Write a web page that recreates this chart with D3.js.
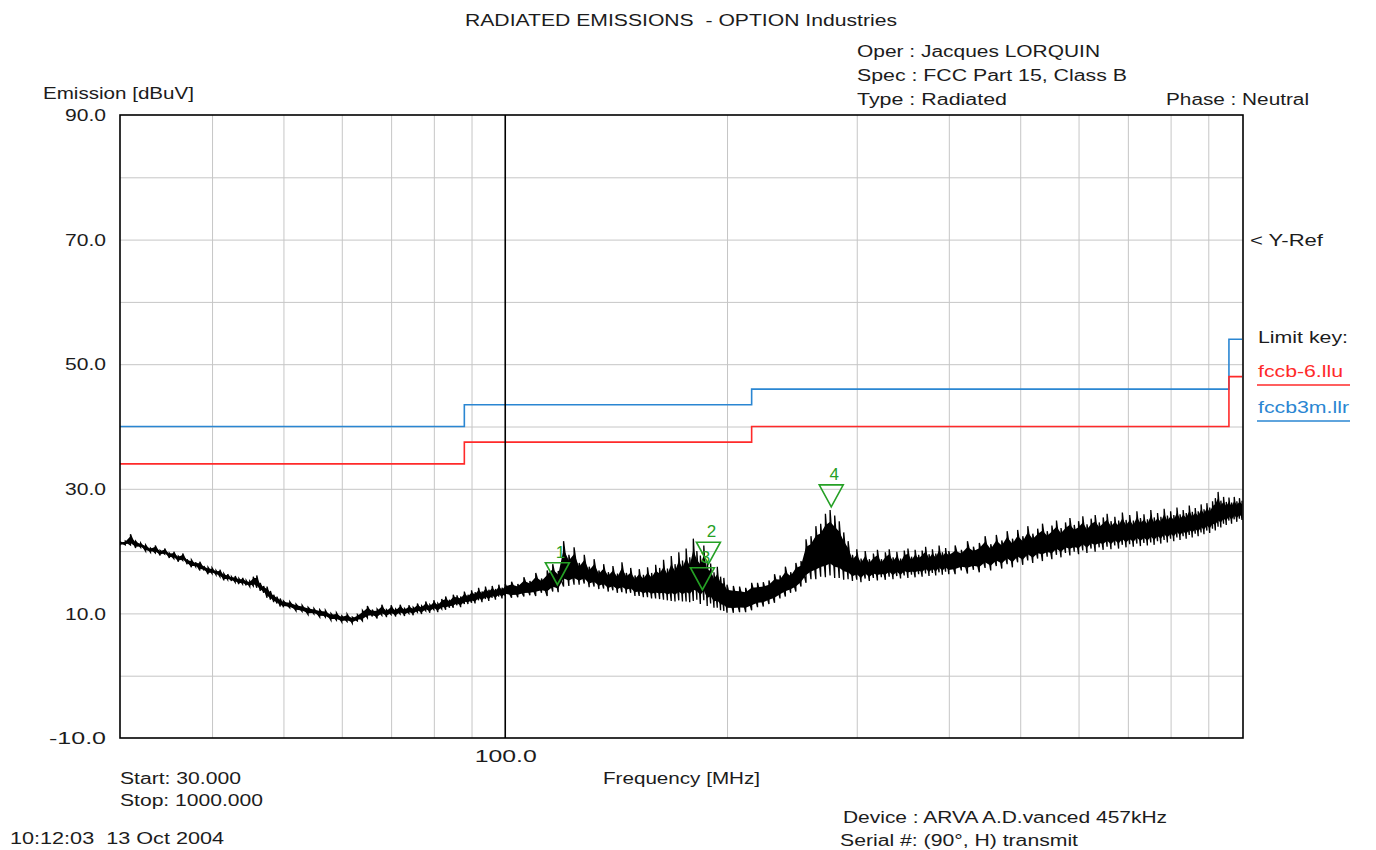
<!DOCTYPE html>
<html><head><meta charset="utf-8">
<script src="https://cdn.jsdelivr.net/npm/d3@7"></script>
<style>html,body{margin:0;padding:0;background:#fff;} svg{display:block;font-family:"Liberation Sans",Arial,sans-serif;} text{white-space:pre;}</style>
</head><body>
<svg id="chart" width="1376" height="850"></svg>
<script>
// ---------- DATA ----------
const xGridFreqs = [40,50,60,70,80,90,200,300,400,500,600,700,800,900];
const yGridLevels = [0,10,20,30,40,50,60,70,80];
const yTickLabels = [90,70,50,30,10,-10];
const xTickLabels = [100];
const refFreq = 100;
const yRefLevel = 70;

const limitEdges = [30, 88, 216, 960, 1000];
const limitBlue = [40, 43.5, 46, 54];   // fccb3m.llr
const limitRed  = [34, 37.5, 40, 48];   // fccb-6.llu

const markerNums   = [1, 2, 3, 4];
const markerFreqs  = [117.7, 188.7, 185.2, 277];
const markerLevels = [14.6, 17.9, 13.8, 27.1];

// trace: [frequency MHz, min level dBuV, max level dBuV]
const traceRows = [
[30,20.9,21.5],[30.5,21.0,21.6],[31,21.0,22.7],[31.5,20.5,21.6],[32,20.6,21.3],[32.5,20.0,21.0],[33,19.8,20.5],[33.5,19.7,20.9],
[34,19.3,20.1],[34.5,19.5,20.4],[35,18.9,19.7],[35.5,18.8,19.9],[36,18.3,19.2],[36.5,18.5,19.6],[37,17.9,18.7],[37.5,17.4,18.6],
[38,17.5,18.2],[38.5,16.9,18.3],[39,16.9,17.6],[39.5,16.3,17.4],[40,16.4,17.3],[40.5,16.2,16.9],[41,15.9,17.0],[41.5,15.3,16.4],
[42,15.4,16.3],[42.5,15.2,15.9],[43,15.0,16.0],[43.5,14.7,15.6],[44,14.7,15.7],[44.5,14.5,15.3],[45,14.3,15.2],[45.5,14.4,15.9],
[46,14.1,16.1],[46.5,13.6,14.9],[47,13.3,14.4],[47.5,12.5,14.3],[48,12.2,13.6],[48.5,11.8,13.0],[49,11.6,12.7],[49.5,11.1,12.4],
[50,11.0,12.0],[51,10.9,11.9],[52,10.4,11.5],[53,10.3,11.3],[54,9.8,11.0],[55,9.9,10.8],[56,9.4,10.6],[57,9.4,10.5],
[58,8.9,10.0],[59,8.9,10.1],[60,8.6,9.6],[61,8.7,9.9],[62,8.4,9.4],[63,8.8,9.8],[64,8.8,10.5],[65,9.3,11.2],
[66,9.5,10.6],[67,9.2,10.7],[68,9.7,11.4],[69,9.4,10.6],[70,9.8,11.3],[71,9.5,10.7],[72,9.9,11.4],[73,9.6,10.8],
[74,10.0,11.3],[75,9.7,11.0],[76,10.2,11.6],[77,9.9,11.2],[78,10.4,11.9],[79,10.1,11.4],[80,10.6,12.1],[81,10.2,11.6],
[82,10.7,12.3],[83,10.6,12.7],[84,10.9,12.2],[85,10.9,13.0],[86,11.3,12.9],[87,11.0,12.7],[88,11.5,13.5],[89,11.5,13.0],
[90,11.7,13.7],[91,11.6,13.4],[92,12.1,14.1],[93,11.8,13.5],[94,12.3,14.3],[95,12.0,13.8],[96,12.5,14.4],[97,12.2,13.9],
[98,12.7,14.6],[99,12.4,14.1],[100,12.8,14.7],
[102,12.5,15.1],[104,12.6,14.7],[106,12.7,15.8],[108,12.9,15.2],[110,12.8,16.5],[112,13.3,15.6],[114,12.8,16.9],[116,13.5,17.9],
[118,13.4,16.8],[120,14.3,21.6],[122,14.4,19.4],[124,14.6,20.6],[126,14.6,18.1],[128,14.8,19.4],[130,14.2,17.5],[132,14.3,18.7],
[134,13.9,16.9],[136,14.0,17.9],[138,13.5,16.6],[140,13.7,17.6],[142,13.3,16.4],[144,13.4,18.2],[146,13.2,16.5],[148,13.3,17.3],
[150,12.8,16.1],[152,12.8,17.1],[154,12.6,16.2],[156,12.6,17.4],[158,12.4,16.5],[160,12.4,17.8],[162,12.3,17.3],[164,12.2,18.6],
[166,12.1,17.2],[168,12.0,19.2],[170,11.9,17.9],[172,12.1,19.8],[174,11.9,18.5],[176,11.9,20.4],[178,11.8,19.0],[180,12.0,22.0],
[182,12.2,20.0],[184,11.5,19.3],[186,12.1,20.9],[188,11.2,18.3],[190,11.6,18.0],[192,10.9,16.6],[194,10.9,17.5],[196,10.5,15.9],
[198,10.4,15.7],[200,10.1,14.6],
[204,10.1,14.4],[208,10.2,14.3],[212,10.2,14.1],[216,10.5,14.9],[220,11.0,14.9],[224,11.1,15.0],[228,11.5,15.3],[232,11.7,16.3],
[236,12.4,16.1],[240,12.7,17.5],[244,13.3,16.6],[248,13.5,18.1],[252,14.3,18.4],[256,14.9,21.9],[260,15.5,22.4],[264,15.5,24.0],
[268,15.9,24.4],[272,15.8,26.0],[276,16.1,26.6],[280,15.7,25.7],[284,15.7,24.8],[288,15.4,23.0],[292,15.5,21.6],[296,15.2,19.4],
[300,15.4,20.3],[304,15.0,18.8],[308,15.6,20.0],[312,15.2,18.7],[316,15.7,19.6],[320,15.3,20.2],[324,15.8,18.7],[328,15.4,19.8],
[332,15.9,20.3],[336,15.5,19.0],[340,16.0,19.9],[344,15.6,18.8],[348,16.1,20.1],[352,15.7,20.4],[356,16.2,19.1],[360,15.8,20.2],
[364,16.3,19.4],[368,15.9,20.1],[372,16.4,20.7],[376,16.0,19.5],[380,16.5,20.3],[384,16.1,19.6],[388,16.6,20.9],[392,16.2,19.8],
[396,16.7,20.5],[400,16.3,20.0],
[408,16.3,20.9],[416,16.9,20.2],[424,16.4,21.6],[432,17.0,20.7],[440,16.6,21.3],[448,17.3,22.4],[456,16.9,21.1],[464,17.6,22.6],
[472,17.2,21.7],[480,17.9,23.2],[488,17.4,22.0],[496,18.2,23.4],[504,17.8,22.4],[512,18.5,24.0],[520,18.1,22.8],[528,18.8,23.6],
[536,18.4,24.4],[544,19.1,23.2],[552,18.7,24.1],[560,19.4,24.9],[568,19.0,23.7],[576,19.7,24.6],[584,19.3,25.3],[592,19.9,24.2],
[600,19.5,24.8],[608,20.1,25.6],[616,19.7,24.3],[624,20.4,25.2],[632,19.9,25.8],[640,20.6,24.6],[648,20.2,25.4],[656,20.7,26.0],
[664,20.3,24.8],[672,20.9,25.5],[680,20.4,24.9],[688,21.0,26.2],[696,20.6,25.0],[704,21.1,25.8],[712,20.7,24.9],[720,21.2,26.4],
[728,20.8,25.3],[736,21.3,25.9],[744,20.9,25.1],[752,21.4,26.6],[760,21.0,25.4],[768,21.6,26.1],[776,21.2,25.5],[784,21.8,26.8],
[792,21.4,25.7],[800,22.0,26.4],[808,21.6,25.8],[816,22.2,27.0],[824,21.8,25.9],[832,22.4,26.6],[840,22.0,26.1],[848,22.6,27.3],
[856,22.2,26.3],[864,22.8,26.9],[872,22.4,26.4],[880,23.0,27.5],[888,22.7,26.7],[896,23.3,27.7],[904,22.9,27.0],[912,23.6,28.0],
[920,23.3,28.5],[928,23.9,29.5],[936,23.8,28.1],[944,24.4,28.7],[952,24.2,27.9],[960,24.9,28.6],[968,24.4,27.8],[976,25.1,28.7],
[984,24.7,28.0],[992,25.2,28.5],[1000,25.0,28.1]
];

// ---------- CHART ----------
const svg = d3.select("#chart");
const M = {left:120, right:1243, top:115, bottom:738};
const x = d3.scaleLog().domain([30,1000]).range([120,1242]);
const y = d3.scaleLinear().domain([-10,90]).range([738,115]);
const TXT = "#1c1c1c", RED = "#ff2a2a", BLUE = "#2a86d2", GREEN = "#25a025", GRID = "#c6c6c6";

function txt(px, py, s, w, opts = {}) {
  const t = svg.append("text").attr("x", px).attr("y", py).text(s)
    .attr("font-size", opts.size || 16).attr("fill", opts.fill || TXT)
    .attr("text-anchor", opts.anchor || "start");
  if (w) t.attr("textLength", w).attr("lengthAdjust", "spacingAndGlyphs");
  return t;
}

svg.append("defs").append("clipPath").attr("id","plotclip").append("rect")
  .attr("x", M.left).attr("y", M.top).attr("width", M.right-M.left).attr("height", M.bottom-M.top);

// grid
const gx = svg.append("g").attr("transform", `translate(0,${M.top})`)
  .call(d3.axisBottom(x).tickValues(xGridFreqs).tickSize(M.bottom-M.top).tickFormat(""));
gx.select(".domain").remove();
gx.selectAll("line").attr("stroke", GRID).attr("stroke-width", 1);
const gy = svg.append("g").attr("transform", `translate(${M.left},0)`)
  .call(d3.axisRight(y).tickValues(yGridLevels).tickSize(M.right-M.left).tickFormat(""));
gy.select(".domain").remove();
gy.selectAll("line").attr("stroke", GRID).attr("stroke-width", 1);

// y labels
const yl = svg.append("g").attr("transform", `translate(${M.left},0)`)
  .call(d3.axisLeft(y).tickValues(yTickLabels).tickSize(0).tickPadding(14).tickFormat(d => d.toFixed(1)));
yl.select(".domain").remove();
yl.selectAll("text").attr("font-size", 16).attr("font-family", "Liberation Sans, Arial, sans-serif")
  .attr("fill", TXT).attr("dy", "0.36em")
  .attr("textLength", d => d < 0 ? 57 : 41).attr("lengthAdjust", "spacingAndGlyphs");

// x label
const xl = svg.append("g").attr("transform", `translate(0,${M.bottom})`)
  .call(d3.axisBottom(x).tickValues(xTickLabels).tickSize(0).tickPadding(13).tickFormat(d => d.toFixed(1)));
xl.select(".domain").remove();
xl.selectAll("text").attr("font-size", 16).attr("font-family", "Liberation Sans, Arial, sans-serif")
  .attr("fill", TXT).attr("textLength", 62).attr("lengthAdjust", "spacingAndGlyphs");

const plot = svg.append("g").attr("clip-path", "url(#plotclip)");

// limit lines
function limitPts(levels) { return limitEdges.map((f,i) => [f, levels[Math.min(i, levels.length-1)]]); }
const stepLine = d3.line().x(d => x(d[0])).y(d => y(d[1])).curve(d3.curveStepAfter);
plot.append("path").attr("d", stepLine(limitPts(limitBlue))).attr("fill","none").attr("stroke",BLUE).attr("stroke-width",1.6);
plot.append("path").attr("d", stepLine(limitPts(limitRed))).attr("fill","none").attr("stroke",RED).attr("stroke-width",1.6);

// trace: solid core of each min/max bin plus the min->max sweep line
const core = d3.area().x(d => x(d[0]))
  .y0(d => y(d[1] + 0.18*(d[2]-d[1]))).y1(d => y(d[2] - 0.18*(d[2]-d[1])));
plot.append("path").attr("d", core(traceRows)).attr("fill","#000");
const sweep = [];
traceRows.forEach(r => { sweep.push([r[0], r[1]]); sweep.push([r[0], r[2]]); });
plot.append("path").attr("d", d3.line().x(d => x(d[0])).y(d => y(d[1]))(sweep))
  .attr("fill","none").attr("stroke","#000").attr("stroke-width",1.3).attr("stroke-linejoin","miter");

// reference line at 100 MHz
svg.append("line").attr("x1", x(refFreq)).attr("x2", x(refFreq)).attr("y1", M.top).attr("y2", M.bottom)
  .attr("stroke","#000").attr("stroke-width",1.6);

// markers
markerNums.forEach((n,i) => {
  const tx = x(markerFreqs[i]), ty = y(markerLevels[i]);
  const hw = 12, h = 22;
  svg.append("path").attr("d", `M${tx-hw},${ty-h}L${tx+hw},${ty-h}L${tx},${ty}Z`)
    .attr("fill","none").attr("stroke",GREEN).attr("stroke-width",1.6);
  txt(tx+3, ty-h-5, String(n), null, {fill: GREEN, anchor: "middle", size: 17});
});

// frame
svg.append("rect").attr("x", M.left).attr("y", M.top).attr("width", M.right-M.left).attr("height", M.bottom-M.top)
  .attr("fill","none").attr("stroke","#000").attr("stroke-width",1.6);

// texts
txt(465, 26, "RADIATED EMISSIONS  - OPTION Industries", 432);
txt(857, 57, "Oper : Jacques LORQUIN", 243);
txt(857, 81, "Spec : FCC Part 15, Class B", 270);
txt(857, 105, "Type : Radiated", 150);
txt(1166, 105, "Phase : Neutral", 143);
txt(43, 99, "Emission [dBuV]", 151);
txt(120, 784, "Start: 30.000", 121);
txt(120, 806, "Stop: 1000.000", 143);
txt(603, 784, "Frequency [MHz]", 157);
txt(10, 844, "10:12:03  13 Oct 2004", 214);
txt(843, 823, "Device : ARVA A.D.vanced 457kHz", 324);
txt(840, 846, "Serial #: (90°, H) transmit", 238);
txt(1250, y(yRefLevel)+6, "< Y-Ref", 73);
txt(1258, 343, "Limit key:", 90);
txt(1258, 377, "fccb-6.llu", 85, {fill: RED});
svg.append("line").attr("x1",1257).attr("x2",1350).attr("y1",385).attr("y2",385).attr("stroke",RED).attr("stroke-width",1.6);
txt(1258, 413, "fccb3m.llr", 91, {fill: BLUE});
svg.append("line").attr("x1",1257).attr("x2",1350).attr("y1",421).attr("y2",421).attr("stroke",BLUE).attr("stroke-width",1.6);
</script>
</body></html>
